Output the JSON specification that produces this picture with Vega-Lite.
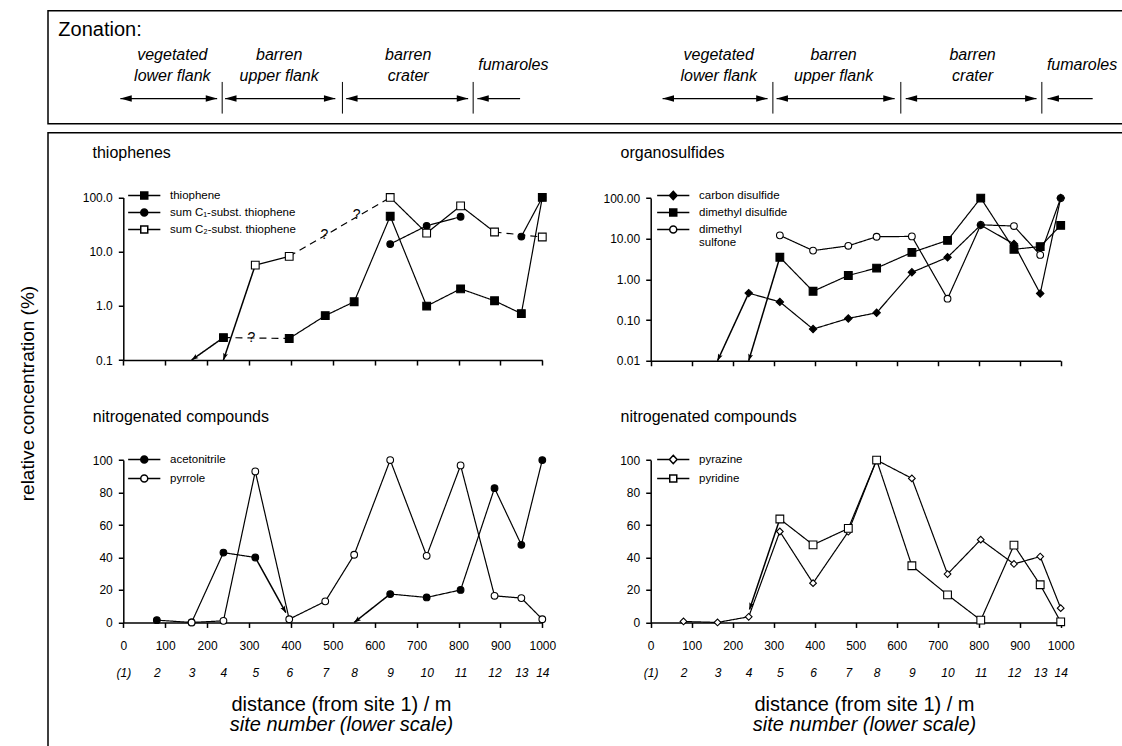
{
  "$schema": "https://vega.github.io/schema/vega-lite/v6.json",
  "padding": {"left": 17, "top": 9.75, "right": 0, "bottom": 0},
  "spacing": 7,
  "config": {
    "font": "Liberation Sans",
    "view": {"stroke": "black", "strokeWidth": 1.5},
    "axis": {"grid": false, "domainColor": "black", "domainWidth": 1.5, "tickColor": "black", "tickWidth": 1.5, "tickSize": 5, "labelColor": "black", "labelFontSize": 12, "labelFlush": false, "labelOverlap": false, "titleColor": "black", "titleFontWeight": "normal", "labelPadding": 6},
    "legend": {"labelColor": "black"},
    "text": {"color": "black"}
  },
  "datasets": {
    "tl_pts": [
      {"site": 9, "dist": 637, "series": "sum C₁-subst. thiophene", "v": 13.8},
      {"site": 10, "dist": 724, "series": "sum C₁-subst. thiophene", "v": 30},
      {"site": 11, "dist": 805, "series": "sum C₁-subst. thiophene", "v": 44},
      {"site": 13, "dist": 950, "series": "sum C₁-subst. thiophene", "v": 19},
      {"site": 14, "dist": 1000, "series": "sum C₁-subst. thiophene", "v": 100},
      {"site": 5, "dist": 315, "series": "sum C₂-subst. thiophene", "v": 5.65},
      {"site": 6, "dist": 396, "series": "sum C₂-subst. thiophene", "v": 8.2},
      {"site": 9, "dist": 637, "series": "sum C₂-subst. thiophene", "v": 100},
      {"site": 10, "dist": 724, "series": "sum C₂-subst. thiophene", "v": 22},
      {"site": 11, "dist": 805, "series": "sum C₂-subst. thiophene", "v": 70},
      {"site": 12, "dist": 886, "series": "sum C₂-subst. thiophene", "v": 23},
      {"site": 14, "dist": 1000, "series": "sum C₂-subst. thiophene", "v": 18.6},
      {"site": 4, "dist": 239, "series": "thiophene", "v": 0.26},
      {"site": 6, "dist": 396, "series": "thiophene", "v": 0.25},
      {"site": 7, "dist": 482, "series": "thiophene", "v": 0.66},
      {"site": 8, "dist": 551, "series": "thiophene", "v": 1.19},
      {"site": 9, "dist": 637, "series": "thiophene", "v": 45},
      {"site": 10, "dist": 724, "series": "thiophene", "v": 0.99},
      {"site": 11, "dist": 805, "series": "thiophene", "v": 2.06},
      {"site": 12, "dist": 886, "series": "thiophene", "v": 1.24},
      {"site": 13, "dist": 950, "series": "thiophene", "v": 0.72},
      {"site": 14, "dist": 1000, "series": "thiophene", "v": 100}
    ],
    "tl_lines": [
      {"seg": "t0", "style": "arrow", "dist": 239, "v": 0.26},
      {"seg": "t0", "style": "arrow", "dist": 163, "v": 0.1},
      {"seg": "t1", "style": "dashed", "dist": 239, "v": 0.26},
      {"seg": "t1", "style": "dashed", "dist": 396, "v": 0.25},
      {"seg": "t2", "style": "solid", "dist": 396, "v": 0.25},
      {"seg": "t2", "style": "solid", "dist": 482, "v": 0.66},
      {"seg": "t2", "style": "solid", "dist": 551, "v": 1.19},
      {"seg": "t2", "style": "solid", "dist": 637, "v": 45},
      {"seg": "t2", "style": "solid", "dist": 724, "v": 0.99},
      {"seg": "t2", "style": "solid", "dist": 805, "v": 2.06},
      {"seg": "t2", "style": "solid", "dist": 886, "v": 1.24},
      {"seg": "t2", "style": "solid", "dist": 950, "v": 0.72},
      {"seg": "t2", "style": "solid", "dist": 1000, "v": 100},
      {"seg": "c1a", "style": "solid", "dist": 637, "v": 13.8},
      {"seg": "c1a", "style": "solid", "dist": 724, "v": 30},
      {"seg": "c1a", "style": "solid", "dist": 805, "v": 44},
      {"seg": "c1b", "style": "solid", "dist": 950, "v": 19},
      {"seg": "c1b", "style": "solid", "dist": 1000, "v": 100},
      {"seg": "c2x", "style": "arrow", "dist": 315, "v": 5.65},
      {"seg": "c2x", "style": "arrow", "dist": 239, "v": 0.1},
      {"seg": "c2a", "style": "solid", "dist": 315, "v": 5.65},
      {"seg": "c2a", "style": "solid", "dist": 396, "v": 8.2},
      {"seg": "c2d", "style": "dashed", "dist": 396, "v": 8.2},
      {"seg": "c2d", "style": "dashed", "dist": 637, "v": 100},
      {"seg": "c2b", "style": "solid", "dist": 637, "v": 100},
      {"seg": "c2b", "style": "solid", "dist": 724, "v": 22},
      {"seg": "c2b", "style": "solid", "dist": 805, "v": 70},
      {"seg": "c2b", "style": "solid", "dist": 886, "v": 23},
      {"seg": "c2e", "style": "dashed", "dist": 886, "v": 23},
      {"seg": "c2e", "style": "dashed", "dist": 1000, "v": 18.6}
    ],
    "tl_tips": [
      {"series": "thiophene", "dist": 163, "v": 0.1},
      {"series": "sum C₂-subst. thiophene", "dist": 239, "v": 0.1}
    ],
    "tl_q": [
      {"dist": 306, "v": 0.25, "t": "?"},
      {"dist": 480, "v": 20, "t": "?"},
      {"dist": 557, "v": 48, "t": "?"}
    ],
    "tr_pts": [
      {"site": 5, "dist": 315, "series": "dimethyl sulfone", "v": 12.1},
      {"site": 6, "dist": 396, "series": "dimethyl sulfone", "v": 5.1},
      {"site": 7, "dist": 482, "series": "dimethyl sulfone", "v": 6.7},
      {"site": 8, "dist": 551, "series": "dimethyl sulfone", "v": 11.2},
      {"site": 9, "dist": 637, "series": "dimethyl sulfone", "v": 11.4},
      {"site": 10, "dist": 724, "series": "dimethyl sulfone", "v": 0.335},
      {"site": 11, "dist": 805, "series": "dimethyl sulfone", "v": 22},
      {"site": 12, "dist": 886, "series": "dimethyl sulfone", "v": 20.5},
      {"site": 13, "dist": 950, "series": "dimethyl sulfone", "v": 4.0},
      {"site": 14, "dist": 1000, "series": "dimethyl sulfone", "v": 100},
      {"site": 5, "dist": 315, "series": "dimethyl disulfide", "v": 3.5},
      {"site": 6, "dist": 396, "series": "dimethyl disulfide", "v": 0.51},
      {"site": 7, "dist": 482, "series": "dimethyl disulfide", "v": 1.25},
      {"site": 8, "dist": 551, "series": "dimethyl disulfide", "v": 1.9},
      {"site": 9, "dist": 637, "series": "dimethyl disulfide", "v": 4.6},
      {"site": 10, "dist": 724, "series": "dimethyl disulfide", "v": 9.1},
      {"site": 11, "dist": 805, "series": "dimethyl disulfide", "v": 100},
      {"site": 12, "dist": 886, "series": "dimethyl disulfide", "v": 5.5},
      {"site": 13, "dist": 950, "series": "dimethyl disulfide", "v": 6.4},
      {"site": 14, "dist": 1000, "series": "dimethyl disulfide", "v": 21.3},
      {"site": 4, "dist": 239, "series": "carbon disulfide", "v": 0.46},
      {"site": 5, "dist": 315, "series": "carbon disulfide", "v": 0.28},
      {"site": 6, "dist": 396, "series": "carbon disulfide", "v": 0.06},
      {"site": 7, "dist": 482, "series": "carbon disulfide", "v": 0.11},
      {"site": 8, "dist": 551, "series": "carbon disulfide", "v": 0.151},
      {"site": 9, "dist": 637, "series": "carbon disulfide", "v": 1.49},
      {"site": 10, "dist": 724, "series": "carbon disulfide", "v": 3.5},
      {"site": 11, "dist": 805, "series": "carbon disulfide", "v": 21.7},
      {"site": 12, "dist": 886, "series": "carbon disulfide", "v": 7.4},
      {"site": 13, "dist": 950, "series": "carbon disulfide", "v": 0.45},
      {"site": 14, "dist": 1000, "series": "carbon disulfide", "v": 100}
    ],
    "tr_lines": [
      {"seg": "cx", "style": "arrow", "dist": 239, "v": 0.46},
      {"seg": "cx", "style": "arrow", "dist": 163, "v": 0.01},
      {"seg": "c", "style": "solid", "dist": 239, "v": 0.46},
      {"seg": "c", "style": "solid", "dist": 315, "v": 0.28},
      {"seg": "c", "style": "solid", "dist": 396, "v": 0.06},
      {"seg": "c", "style": "solid", "dist": 482, "v": 0.11},
      {"seg": "c", "style": "solid", "dist": 551, "v": 0.151},
      {"seg": "c", "style": "solid", "dist": 637, "v": 1.49},
      {"seg": "c", "style": "solid", "dist": 724, "v": 3.5},
      {"seg": "c", "style": "solid", "dist": 805, "v": 21.7},
      {"seg": "c", "style": "solid", "dist": 886, "v": 7.4},
      {"seg": "c", "style": "solid", "dist": 950, "v": 0.45},
      {"seg": "c", "style": "solid", "dist": 1000, "v": 100},
      {"seg": "dx", "style": "arrow", "dist": 315, "v": 3.5},
      {"seg": "dx", "style": "arrow", "dist": 239, "v": 0.01},
      {"seg": "d", "style": "solid", "dist": 315, "v": 3.5},
      {"seg": "d", "style": "solid", "dist": 396, "v": 0.51},
      {"seg": "d", "style": "solid", "dist": 482, "v": 1.25},
      {"seg": "d", "style": "solid", "dist": 551, "v": 1.9},
      {"seg": "d", "style": "solid", "dist": 637, "v": 4.6},
      {"seg": "d", "style": "solid", "dist": 724, "v": 9.1},
      {"seg": "d", "style": "solid", "dist": 805, "v": 100},
      {"seg": "d", "style": "solid", "dist": 886, "v": 5.5},
      {"seg": "d", "style": "solid", "dist": 950, "v": 6.4},
      {"seg": "d", "style": "solid", "dist": 1000, "v": 21.3},
      {"seg": "s", "style": "solid", "dist": 315, "v": 12.1},
      {"seg": "s", "style": "solid", "dist": 396, "v": 5.1},
      {"seg": "s", "style": "solid", "dist": 482, "v": 6.7},
      {"seg": "s", "style": "solid", "dist": 551, "v": 11.2},
      {"seg": "s", "style": "solid", "dist": 637, "v": 11.4},
      {"seg": "s", "style": "solid", "dist": 724, "v": 0.335},
      {"seg": "s", "style": "solid", "dist": 805, "v": 22},
      {"seg": "s", "style": "solid", "dist": 886, "v": 20.5},
      {"seg": "s", "style": "solid", "dist": 950, "v": 4.0},
      {"seg": "s", "style": "solid", "dist": 1000, "v": 100}
    ],
    "tr_tips": [
      {"series": "carbon disulfide", "dist": 163, "v": 0.01},
      {"series": "dimethyl disulfide", "dist": 239, "v": 0.01}
    ],
    "bl_pts": [
      {"site": 2, "dist": 80, "series": "acetonitrile", "v": 1.4},
      {"site": 3, "dist": 163, "series": "acetonitrile", "v": 0},
      {"site": 4, "dist": 239, "series": "acetonitrile", "v": 43},
      {"site": 5, "dist": 315, "series": "acetonitrile", "v": 40},
      {"site": 9, "dist": 637, "series": "acetonitrile", "v": 17.5},
      {"site": 10, "dist": 724, "series": "acetonitrile", "v": 15.4},
      {"site": 11, "dist": 805, "series": "acetonitrile", "v": 20},
      {"site": 12, "dist": 886, "series": "acetonitrile", "v": 82.7},
      {"site": 13, "dist": 950, "series": "acetonitrile", "v": 47.8},
      {"site": 14, "dist": 1000, "series": "acetonitrile", "v": 100},
      {"site": 3, "dist": 163, "series": "pyrrole", "v": 0},
      {"site": 4, "dist": 239, "series": "pyrrole", "v": 1},
      {"site": 5, "dist": 315, "series": "pyrrole", "v": 93},
      {"site": 6, "dist": 396, "series": "pyrrole", "v": 2},
      {"site": 7, "dist": 482, "series": "pyrrole", "v": 13},
      {"site": 8, "dist": 551, "series": "pyrrole", "v": 41.7},
      {"site": 9, "dist": 637, "series": "pyrrole", "v": 100},
      {"site": 10, "dist": 724, "series": "pyrrole", "v": 41},
      {"site": 11, "dist": 805, "series": "pyrrole", "v": 96.7},
      {"site": 12, "dist": 886, "series": "pyrrole", "v": 16.4},
      {"site": 13, "dist": 950, "series": "pyrrole", "v": 15},
      {"site": 14, "dist": 1000, "series": "pyrrole", "v": 2}
    ],
    "bl_lines": [
      {"seg": "a1", "style": "solid", "dist": 80, "v": 1.4},
      {"seg": "a1", "style": "solid", "dist": 163, "v": 0},
      {"seg": "a1", "style": "solid", "dist": 239, "v": 43},
      {"seg": "a1", "style": "solid", "dist": 315, "v": 40},
      {"seg": "ax1", "style": "arrow", "dist": 315, "v": 40},
      {"seg": "ax1", "style": "arrow", "dist": 388, "v": 6},
      {"seg": "ax2", "style": "arrow", "dist": 637, "v": 17.5},
      {"seg": "ax2", "style": "arrow", "dist": 551, "v": 0},
      {"seg": "a2", "style": "solid", "dist": 637, "v": 17.5},
      {"seg": "a2", "style": "solid", "dist": 724, "v": 15.4},
      {"seg": "a2", "style": "solid", "dist": 805, "v": 20},
      {"seg": "a2", "style": "solid", "dist": 886, "v": 82.7},
      {"seg": "a2", "style": "solid", "dist": 950, "v": 47.8},
      {"seg": "a2", "style": "solid", "dist": 1000, "v": 100},
      {"seg": "p", "style": "solid", "dist": 163, "v": 0},
      {"seg": "p", "style": "solid", "dist": 239, "v": 1},
      {"seg": "p", "style": "solid", "dist": 315, "v": 93},
      {"seg": "p", "style": "solid", "dist": 396, "v": 2},
      {"seg": "p", "style": "solid", "dist": 482, "v": 13},
      {"seg": "p", "style": "solid", "dist": 551, "v": 41.7},
      {"seg": "p", "style": "solid", "dist": 637, "v": 100},
      {"seg": "p", "style": "solid", "dist": 724, "v": 41},
      {"seg": "p", "style": "solid", "dist": 805, "v": 96.7},
      {"seg": "p", "style": "solid", "dist": 886, "v": 16.4},
      {"seg": "p", "style": "solid", "dist": 950, "v": 15},
      {"seg": "p", "style": "solid", "dist": 1000, "v": 2}
    ],
    "bl_tips": [
      {"series": "acetonitrile", "dist": 388, "v": 6},
      {"series": "acetonitrile", "dist": 551, "v": 0}
    ],
    "br_pts": [
      {"site": 2, "dist": 80, "series": "pyrazine", "v": 0.6},
      {"site": 3, "dist": 163, "series": "pyrazine", "v": 0},
      {"site": 4, "dist": 239, "series": "pyrazine", "v": 3.5},
      {"site": 5, "dist": 315, "series": "pyrazine", "v": 56},
      {"site": 6, "dist": 396, "series": "pyrazine", "v": 24.2},
      {"site": 7, "dist": 482, "series": "pyrazine", "v": 55.9},
      {"site": 8, "dist": 551, "series": "pyrazine", "v": 100},
      {"site": 9, "dist": 637, "series": "pyrazine", "v": 88.7},
      {"site": 10, "dist": 724, "series": "pyrazine", "v": 29.8},
      {"site": 11, "dist": 805, "series": "pyrazine", "v": 51},
      {"site": 12, "dist": 886, "series": "pyrazine", "v": 36},
      {"site": 13, "dist": 950, "series": "pyrazine", "v": 40.6},
      {"site": 14, "dist": 1000, "series": "pyrazine", "v": 8.8},
      {"site": 5, "dist": 315, "series": "pyridine", "v": 63.7},
      {"site": 6, "dist": 396, "series": "pyridine", "v": 47.8},
      {"site": 7, "dist": 482, "series": "pyridine", "v": 57.9},
      {"site": 8, "dist": 551, "series": "pyridine", "v": 100},
      {"site": 9, "dist": 637, "series": "pyridine", "v": 34.9},
      {"site": 10, "dist": 724, "series": "pyridine", "v": 17},
      {"site": 11, "dist": 805, "series": "pyridine", "v": 1.4},
      {"site": 12, "dist": 886, "series": "pyridine", "v": 47.6},
      {"site": 13, "dist": 950, "series": "pyridine", "v": 23.2},
      {"site": 14, "dist": 1000, "series": "pyridine", "v": 0.4}
    ],
    "br_lines": [
      {"seg": "z", "style": "solid", "dist": 80, "v": 0.6},
      {"seg": "z", "style": "solid", "dist": 163, "v": 0},
      {"seg": "z", "style": "solid", "dist": 239, "v": 3.5},
      {"seg": "z", "style": "solid", "dist": 315, "v": 56},
      {"seg": "z", "style": "solid", "dist": 396, "v": 24.2},
      {"seg": "z", "style": "solid", "dist": 482, "v": 55.9},
      {"seg": "z", "style": "solid", "dist": 551, "v": 100},
      {"seg": "z", "style": "solid", "dist": 637, "v": 88.7},
      {"seg": "z", "style": "solid", "dist": 724, "v": 29.8},
      {"seg": "z", "style": "solid", "dist": 805, "v": 51},
      {"seg": "z", "style": "solid", "dist": 886, "v": 36},
      {"seg": "z", "style": "solid", "dist": 950, "v": 40.6},
      {"seg": "z", "style": "solid", "dist": 1000, "v": 8.8},
      {"seg": "dx", "style": "arrow", "dist": 315, "v": 63.7},
      {"seg": "dx", "style": "arrow", "dist": 241, "v": 8},
      {"seg": "d", "style": "solid", "dist": 315, "v": 63.7},
      {"seg": "d", "style": "solid", "dist": 396, "v": 47.8},
      {"seg": "d", "style": "solid", "dist": 482, "v": 57.9},
      {"seg": "d", "style": "solid", "dist": 551, "v": 100},
      {"seg": "d", "style": "solid", "dist": 637, "v": 34.9},
      {"seg": "d", "style": "solid", "dist": 724, "v": 17},
      {"seg": "d", "style": "solid", "dist": 805, "v": 1.4},
      {"seg": "d", "style": "solid", "dist": 886, "v": 47.6},
      {"seg": "d", "style": "solid", "dist": 950, "v": 23.2},
      {"seg": "d", "style": "solid", "dist": 1000, "v": 0.4}
    ],
    "br_tips": [
      {"series": "pyridine", "dist": 241, "v": 8}
    ],
    "zon_title": [{"t": "Zonation:", "x": -155, "lev": 82.7}],
    "zon_text": [
      {"half": "L", "x": 117, "lev": 60.6, "t": "vegetated"},
      {"half": "L", "x": 117, "lev": 42, "t": "lower flank"},
      {"half": "L", "x": 372, "lev": 60.6, "t": "barren"},
      {"half": "L", "x": 372, "lev": 42, "t": "upper flank"},
      {"half": "L", "x": 680, "lev": 60.6, "t": "barren"},
      {"half": "L", "x": 680, "lev": 42, "t": "crater"},
      {"half": "L", "x": 931, "lev": 51.8, "t": "fumaroles"},
      {"half": "R", "x": 166, "lev": 60.6, "t": "vegetated"},
      {"half": "R", "x": 166, "lev": 42, "t": "lower flank"},
      {"half": "R", "x": 446, "lev": 60.6, "t": "barren"},
      {"half": "R", "x": 446, "lev": 42, "t": "upper flank"},
      {"half": "R", "x": 785, "lev": 60.6, "t": "barren"},
      {"half": "R", "x": 785, "lev": 42, "t": "crater"},
      {"half": "R", "x": 1052, "lev": 51.8, "t": "fumaroles"}
    ],
    "zon_bound": [
      {"half": "L", "x": 236}, {"half": "L", "x": 523}, {"half": "L", "x": 835},
      {"half": "R", "x": 298}, {"half": "R", "x": 610}, {"half": "R", "x": 954}
    ],
    "zon_arrow": [
      {"half": "L", "x1": -7, "x2": 224},
      {"half": "L", "x1": 243, "x2": 506},
      {"half": "L", "x1": 532, "x2": 823},
      {"half": "L", "x1": 845, "x2": 947},
      {"half": "R", "x1": 29, "x2": 285},
      {"half": "R", "x1": 307, "x2": 595},
      {"half": "R", "x1": 622, "x2": 941},
      {"half": "R", "x1": 968, "x2": 1078}
    ],
    "zon_head": [
      {"half": "L", "x": -7, "dir": "left"}, {"half": "L", "x": 224, "dir": "right"},
      {"half": "L", "x": 243, "dir": "left"}, {"half": "L", "x": 506, "dir": "right"},
      {"half": "L", "x": 532, "dir": "left"}, {"half": "L", "x": 823, "dir": "right"},
      {"half": "L", "x": 845, "dir": "left"},
      {"half": "R", "x": 29, "dir": "left"}, {"half": "R", "x": 285, "dir": "right"},
      {"half": "R", "x": 307, "dir": "left"}, {"half": "R", "x": 595, "dir": "right"},
      {"half": "R", "x": 622, "dir": "left"}, {"half": "R", "x": 941, "dir": "right"},
      {"half": "R", "x": 968, "dir": "left"}
    ]
  },
  "vconcat": [
    {
      "width": 1080,
      "height": 113,
      "resolve": {"scale": {"x": "independent"}},
      "layer": [
        {
          "layer": [
            {
              "data": {"name": "zon_title"},
              "mark": {"type": "text", "fontSize": 20, "align": "left", "baseline": "middle"},
              "encoding": {
                "x": {"field": "x", "type": "quantitative", "scale": {"domain": [0, 1000], "range": [75.3, 494.3]}, "axis": null},
                "y": {"field": "lev", "type": "quantitative", "scale": {"domain": [0, 100], "range": [113, 0]}, "axis": null},
                "text": {"field": "t"}
              }
            },
            {
              "data": {"name": "zon_text"},
              "transform": [{"filter": "datum.half === 'L'"}],
              "mark": {"type": "text", "fontSize": 16, "fontStyle": "italic", "align": "center", "baseline": "middle"},
              "encoding": {
                "x": {"field": "x", "type": "quantitative", "scale": {"domain": [0, 1000], "range": [75.3, 494.3]}, "axis": null},
                "y": {"field": "lev", "type": "quantitative", "scale": {"domain": [0, 100], "range": [113, 0]}, "axis": null},
                "text": {"field": "t"}
              }
            },
            {
              "data": {"name": "zon_bound"},
              "transform": [{"filter": "datum.half === 'L'"}],
              "mark": {"type": "rule", "color": "black", "strokeWidth": 1},
              "encoding": {
                "x": {"field": "x", "type": "quantitative", "scale": {"domain": [0, 1000], "range": [75.3, 494.3]}, "axis": null},
                "y": {"datum": 9, "type": "quantitative", "scale": {"domain": [0, 100], "range": [113, 0]}, "axis": null},
                "y2": {"datum": 37}
              }
            },
            {
              "data": {"name": "zon_arrow"},
              "transform": [{"filter": "datum.half === 'L'"}],
              "mark": {"type": "rule", "color": "black", "strokeWidth": 1.3},
              "encoding": {
                "x": {"field": "x1", "type": "quantitative", "scale": {"domain": [0, 1000], "range": [75.3, 494.3]}, "axis": null},
                "x2": {"field": "x2"},
                "y": {"datum": 22.3, "type": "quantitative", "scale": {"domain": [0, 100], "range": [113, 0]}, "axis": null}
              }
            },
            {
              "data": {"name": "zon_head"},
              "transform": [{"filter": "datum.half === 'L'"}],
              "mark": {"type": "point", "shape": "M0,0 L-0.7,2.4 L0.7,2.4 Z", "filled": true, "color": "black", "opacity": 1, "size": 90, "strokeWidth": 0},
              "encoding": {
                "x": {"field": "x", "type": "quantitative", "scale": {"domain": [0, 1000], "range": [75.3, 494.3]}, "axis": null},
                "y": {"datum": 22.3, "type": "quantitative", "scale": {"domain": [0, 100], "range": [113, 0]}, "axis": null},
                "angle": {"condition": {"test": "datum.dir === 'right'", "value": 90}, "value": 270}
              }
            }
          ]
        },
        {
          "layer": [
            {
              "data": {"name": "zon_text"},
              "transform": [{"filter": "datum.half === 'R'"}],
              "mark": {"type": "text", "fontSize": 16, "fontStyle": "italic", "align": "center", "baseline": "middle"},
              "encoding": {
                "x": {"field": "x", "type": "quantitative", "scale": {"domain": [0, 1000], "range": [602.7, 1012.7]}, "axis": null},
                "y": {"field": "lev", "type": "quantitative", "scale": {"domain": [0, 100], "range": [113, 0]}, "axis": null},
                "text": {"field": "t"}
              }
            },
            {
              "data": {"name": "zon_bound"},
              "transform": [{"filter": "datum.half === 'R'"}],
              "mark": {"type": "rule", "color": "black", "strokeWidth": 1},
              "encoding": {
                "x": {"field": "x", "type": "quantitative", "scale": {"domain": [0, 1000], "range": [602.7, 1012.7]}, "axis": null},
                "y": {"datum": 9, "type": "quantitative", "scale": {"domain": [0, 100], "range": [113, 0]}, "axis": null},
                "y2": {"datum": 37}
              }
            },
            {
              "data": {"name": "zon_arrow"},
              "transform": [{"filter": "datum.half === 'R'"}],
              "mark": {"type": "rule", "color": "black", "strokeWidth": 1.3},
              "encoding": {
                "x": {"field": "x1", "type": "quantitative", "scale": {"domain": [0, 1000], "range": [602.7, 1012.7]}, "axis": null},
                "x2": {"field": "x2"},
                "y": {"datum": 22.3, "type": "quantitative", "scale": {"domain": [0, 100], "range": [113, 0]}, "axis": null}
              }
            },
            {
              "data": {"name": "zon_head"},
              "transform": [{"filter": "datum.half === 'R'"}],
              "mark": {"type": "point", "shape": "M0,0 L-0.7,2.4 L0.7,2.4 Z", "filled": true, "color": "black", "opacity": 1, "size": 90, "strokeWidth": 0},
              "encoding": {
                "x": {"field": "x", "type": "quantitative", "scale": {"domain": [0, 1000], "range": [602.7, 1012.7]}, "axis": null},
                "y": {"datum": 22.3, "type": "quantitative", "scale": {"domain": [0, 100], "range": [113, 0]}, "axis": null},
                "angle": {"condition": {"test": "datum.dir === 'right'", "value": 90}, "value": 270}
              }
            }
          ]
        }
      ]
    },
    {
      "width": 1080,
      "height": 620,
      "resolve": {
        "scale": {"x": "independent", "y": "independent", "shape": "independent", "fill": "independent"},
        "axis": {"x": "independent", "y": "independent"},
        "legend": {"shape": "independent", "fill": "independent"}
      },
      "layer": [
        {
          "resolve": {"axis": {"x": "independent", "y": "independent"}},
          "layer": [
            {
              "data": {"name": "tl_lines"},
              "mark": {"type": "line", "color": "black"},
              "encoding": {
                "x": {"field": "dist", "type": "quantitative", "scale": {"type": "linear", "domain": [0, 1000], "range": [75.3, 494.3], "nice": false, "zero": false},
                  "axis": {"orient": "bottom", "offset": -392.7, "values": [0, 100, 200, 300, 400, 500, 600, 700, 800, 900, 1000], "labels": false,
                    "title": "relative concentration  (%)", "titleAngle": -90, "titleX": -21, "titleY": 33, "titleAlign": "center", "titleBaseline": "middle", "titleFontSize": 19}},
                "y": {"field": "v", "type": "quantitative", "scale": {"type": "log", "domain": [0.1, 100], "range": [227.3, 64.7]},
                  "axis": {"orient": "left", "offset": -75.3, "values": [0.1, 1, 10, 100], "format": ".1f",
                    "title": "thiophenes", "titleAngle": 0, "titleAlign": "left", "titleBaseline": "middle", "titleX": -31.3, "titleY": 20, "titleFontSize": 16}},
                "detail": {"field": "seg", "type": "nominal"},
                "strokeDash": {"field": "style", "type": "nominal", "scale": {"domain": ["solid", "dashed", "arrow"], "range": [[1, 0], [7, 5], [1, 0]]}, "legend": null},
                "strokeWidth": {"condition": {"test": "datum.style === 'arrow'", "value": 1.5}, "value": 1.2}
              }
            },
            {
              "data": {"name": "tl_q"},
              "mark": {"type": "text", "fontSize": 14, "baseline": "middle", "align": "center"},
              "encoding": {
                "x": {"field": "dist", "type": "quantitative", "scale": {"type": "linear", "domain": [0, 1000], "range": [75.3, 494.3], "nice": false, "zero": false}, "axis": null},
                "y": {"field": "v", "type": "quantitative", "scale": {"type": "log", "domain": [0.1, 100], "range": [227.3, 64.7]}, "axis": null},
                "text": {"field": "t"}
              }
            },
            {
              "data": {"name": "tl_tips"},
              "mark": {"type": "point", "shape": "M0,0 L-0.9,2.5 L0,2 L0.9,2.5 Z", "filled": true, "color": "black", "opacity": 1, "size": 30, "strokeWidth": 0},
              "encoding": {
                "x": {"field": "dist", "type": "quantitative", "scale": {"type": "linear", "domain": [0, 1000], "range": [75.3, 494.3], "nice": false, "zero": false}, "axis": null},
                "y": {"field": "v", "type": "quantitative", "scale": {"type": "log", "domain": [0.1, 100], "range": [227.3, 64.7]}, "axis": null},
                "angle": {"condition": {"test": "datum.series === 'thiophene'", "value": 234.7}, "value": 198.5}
              }
            },
            {
              "data": {"name": "tl_pts"},
              "mark": {"type": "point", "filled": true, "stroke": "black", "strokeWidth": 1.1, "opacity": 1},
              "encoding": {
                "x": {"field": "dist", "type": "quantitative", "scale": {"type": "linear", "domain": [0, 1000], "range": [75.3, 494.3], "nice": false, "zero": false}, "axis": null},
                "y": {"field": "v", "type": "quantitative", "scale": {"type": "log", "domain": [0.1, 100], "range": [227.3, 64.7]}, "axis": null},
                "shape": {"condition": {"test": "datum.series === 'sum C₁-subst. thiophene'", "value": "circle"}, "value": "square"},
                "fill": {"condition": {"test": "datum.series === 'sum C₂-subst. thiophene'", "value": "white"}, "value": "black"},
                "size": {"condition": {"test": "datum.series === 'sum C₁-subst. thiophene'", "value": 45}, "value": 60}
              }
            },
            {
              "data": {"name": "tl_pts"},
              "transform": [{"filter": "false"}],
              "mark": {"type": "point", "filled": true, "stroke": "black", "strokeWidth": 1.1, "opacity": 1},
              "encoding": {
                "x": {"field": "dist", "type": "quantitative", "scale": {"type": "linear", "domain": [0, 1000], "range": [75.3, 494.3], "nice": false, "zero": false}, "axis": null},
                "y": {"field": "v", "type": "quantitative", "scale": {"type": "log", "domain": [0.1, 100], "range": [227.3, 64.7]}, "axis": null},
                "shape": {"field": "series", "type": "nominal",
                  "scale": {"domain": ["thiophene", "sum C₁-subst. thiophene", "sum C₂-subst. thiophene"],
                    "range": ["M-4.6,0 L-1,0 M1,0 L4.6,0 M-1,-1 L1,-1 L1,1 L-1,1 Z", "M-4.6,0 L-1,0 M1,0 L4.6,0 M-1,0 A1,1 0 1,0 1,0 A1,1 0 1,0 -1,0 Z", "M-4.6,0 L-1,0 M1,0 L4.6,0 M-1,-1 L1,-1 L1,1 L-1,1 Z"]},
                  "legend": {"orient": "none", "legendX": 90.5, "legendY": 57, "title": null, "labelFontSize": 11.5, "labelOffset": 20, "symbolSize": 49, "rowPadding": 3, "padding": 0, "labelLimit": 300,
                    "encode": {"symbols": {"update": {"stroke": {"value": "black"}, "strokeWidth": {"value": 1.2}, "opacity": {"value": 1}}}}}},
                "fill": {"field": "series", "type": "nominal",
                  "scale": {"domain": ["thiophene", "sum C₁-subst. thiophene", "sum C₂-subst. thiophene"], "range": ["black", "black", "white"]},
                  "legend": {"orient": "none", "legendX": 90.5, "legendY": 57, "title": null, "labelFontSize": 11.5, "labelOffset": 20, "symbolSize": 49, "rowPadding": 3, "padding": 0, "labelLimit": 300,
                    "encode": {"symbols": {"update": {"stroke": {"value": "black"}, "strokeWidth": {"value": 1.2}, "opacity": {"value": 1}}}}}}
              }
            }
          ]
        },
        {
          "resolve": {"axis": {"x": "independent", "y": "independent"}},
          "layer": [
            {
              "data": {"name": "tr_lines"},
              "mark": {"type": "line", "color": "black"},
              "encoding": {
                "x": {"field": "dist", "type": "quantitative", "scale": {"type": "linear", "domain": [0, 1000], "range": [602.7, 1012.7], "nice": false, "zero": false},
                  "axis": {"orient": "bottom", "offset": -392, "values": [0, 100, 200, 300, 400, 500, 600, 700, 800, 900, 1000], "labels": false, "title": null}},
                "y": {"field": "v", "type": "quantitative", "scale": {"type": "log", "domain": [0.01, 100], "range": [228, 65.3]},
                  "axis": {"orient": "left", "offset": -602.7, "values": [0.01, 0.1, 1, 10, 100], "format": ".2f",
                    "title": "organosulfides", "titleAngle": 0, "titleAlign": "left", "titleBaseline": "middle", "titleX": -30.7, "titleY": 20, "titleFontSize": 16}},
                "detail": {"field": "seg", "type": "nominal"},
                "strokeDash": {"field": "style", "type": "nominal", "scale": {"domain": ["solid", "dashed", "arrow"], "range": [[1, 0], [7, 5], [1, 0]]}, "legend": null},
                "strokeWidth": {"condition": {"test": "datum.style === 'arrow'", "value": 1.5}, "value": 1.2}
              }
            },
            {
              "data": {"name": "tr_tips"},
              "mark": {"type": "point", "shape": "M0,0 L-0.9,2.5 L0,2 L0.9,2.5 Z", "filled": true, "color": "black", "opacity": 1, "size": 30, "strokeWidth": 0},
              "encoding": {
                "x": {"field": "dist", "type": "quantitative", "scale": {"type": "linear", "domain": [0, 1000], "range": [602.7, 1012.7], "nice": false, "zero": false}, "axis": null},
                "y": {"field": "v", "type": "quantitative", "scale": {"type": "log", "domain": [0.01, 100], "range": [228, 65.3]}, "axis": null},
                "angle": {"condition": {"test": "datum.series === 'carbon disulfide'", "value": 204.5}, "value": 196.6}
              }
            },
            {
              "data": {"name": "tr_pts"},
              "mark": {"type": "point", "filled": true, "stroke": "black", "strokeWidth": 1.1, "opacity": 1},
              "encoding": {
                "x": {"field": "dist", "type": "quantitative", "scale": {"type": "linear", "domain": [0, 1000], "range": [602.7, 1012.7], "nice": false, "zero": false}, "axis": null},
                "y": {"field": "v", "type": "quantitative", "scale": {"type": "log", "domain": [0.01, 100], "range": [228, 65.3]}, "axis": null},
                "shape": {"condition": [{"test": "datum.series === 'carbon disulfide'", "value": "diamond"}, {"test": "datum.series === 'dimethyl sulfone'", "value": "circle"}], "value": "square"},
                "fill": {"condition": {"test": "datum.series === 'dimethyl sulfone'", "value": "white"}, "value": "black"},
                "size": {"condition": [{"test": "datum.series === 'carbon disulfide'", "value": 55}, {"test": "datum.series === 'dimethyl sulfone'", "value": 45}], "value": 60}
              }
            },
            {
              "data": {"name": "tr_pts"},
              "transform": [{"filter": "false"}],
              "mark": {"type": "point", "filled": true, "stroke": "black", "strokeWidth": 1.1, "opacity": 1},
              "encoding": {
                "x": {"field": "dist", "type": "quantitative", "scale": {"type": "linear", "domain": [0, 1000], "range": [602.7, 1012.7], "nice": false, "zero": false}, "axis": null},
                "y": {"field": "v", "type": "quantitative", "scale": {"type": "log", "domain": [0.01, 100], "range": [228, 65.3]}, "axis": null},
                "shape": {"field": "series", "type": "nominal",
                  "scale": {"domain": ["carbon disulfide", "dimethyl disulfide", "dimethyl sulfone"],
                    "range": ["M-4.6,0 L-1.1,0 M1.1,0 L4.6,0 M0,-1.2 L1.1,0 L0,1.2 L-1.1,0 Z", "M-4.6,0 L-1,0 M1,0 L4.6,0 M-1,-1 L1,-1 L1,1 L-1,1 Z", "M-4.6,0 L-1,0 M1,0 L4.6,0 M-1,0 A1,1 0 1,0 1,0 A1,1 0 1,0 -1,0 Z"]},
                  "legend": {"orient": "none", "legendX": 619.5, "legendY": 57, "title": null, "labelFontSize": 11.5, "labelOffset": 20, "symbolSize": 49, "rowPadding": 3, "padding": 0, "labelLimit": 300,
                    "labelExpr": "datum.label === 'dimethyl sulfone' ? ['dimethyl', 'sulfone'] : datum.label",
                    "encode": {"symbols": {"update": {"stroke": {"value": "black"}, "strokeWidth": {"value": 1.2}, "opacity": {"value": 1}}}, "labels": {"update": {"lineHeight": {"value": 16}}}}}},
                "fill": {"field": "series", "type": "nominal",
                  "scale": {"domain": ["carbon disulfide", "dimethyl disulfide", "dimethyl sulfone"], "range": ["black", "black", "white"]},
                  "legend": {"orient": "none", "legendX": 619.5, "legendY": 57, "title": null, "labelFontSize": 11.5, "labelOffset": 20, "symbolSize": 49, "rowPadding": 3, "padding": 0, "labelLimit": 300,
                    "labelExpr": "datum.label === 'dimethyl sulfone' ? ['dimethyl', 'sulfone'] : datum.label",
                    "encode": {"symbols": {"update": {"stroke": {"value": "black"}, "strokeWidth": {"value": 1.2}, "opacity": {"value": 1}}}, "labels": {"update": {"lineHeight": {"value": 16}}}}}}
              }
            }
          ]
        },
        {
          "resolve": {"axis": {"x": "independent", "y": "independent"}},
          "layer": [
            {
              "data": {"name": "bl_lines"},
              "mark": {"type": "line", "color": "black"},
              "encoding": {
                "x": {"field": "dist", "type": "quantitative", "scale": {"type": "linear", "domain": [0, 1000], "range": [75.3, 494.3], "nice": false, "zero": false},
                  "axis": {"orient": "bottom", "offset": -130.3, "values": [0, 100, 200, 300, 400, 500, 600, 700, 800, 900, 1000], "format": "d", "labelPadding": 13,
                    "title": "distance (from site 1) / m", "titleFontSize": 20, "titleX": 293, "titleY": 82.3, "titleAlign": "center", "titleBaseline": "middle"}},
                "y": {"field": "v", "type": "quantitative", "scale": {"type": "linear", "domain": [0, 100], "range": [489.7, 327.3], "nice": false},
                  "axis": {"orient": "left", "offset": -75.3, "values": [0, 20, 40, 60, 80, 100],
                    "title": "nitrogenated compounds", "titleAngle": 0, "titleAlign": "left", "titleBaseline": "middle", "titleX": -31, "titleY": 284, "titleFontSize": 16}},
                "detail": {"field": "seg", "type": "nominal"},
                "strokeDash": {"field": "style", "type": "nominal", "scale": {"domain": ["solid", "dashed", "arrow"], "range": [[1, 0], [7, 5], [1, 0]]}, "legend": null},
                "strokeWidth": {"condition": {"test": "datum.style === 'arrow'", "value": 1.5}, "value": 1.2}
              }
            },
            {
              "data": {"name": "bl_tips"},
              "mark": {"type": "point", "shape": "M0,0 L-0.9,2.5 L0,2 L0.9,2.5 Z", "filled": true, "color": "black", "opacity": 1, "size": 30, "strokeWidth": 0},
              "encoding": {
                "x": {"field": "dist", "type": "quantitative", "scale": {"type": "linear", "domain": [0, 1000], "range": [75.3, 494.3], "nice": false, "zero": false}, "axis": null},
                "y": {"field": "v", "type": "quantitative", "scale": {"type": "linear", "domain": [0, 100], "range": [489.7, 327.3], "nice": false}, "axis": null},
                "angle": {"condition": {"test": "datum.dist < 500", "value": 151}, "value": 231.7}
              }
            },
            {
              "data": {"name": "bl_pts"},
              "mark": {"type": "point", "filled": true, "stroke": "black", "strokeWidth": 1.1, "opacity": 1, "shape": "circle"},
              "encoding": {
                "x": {"field": "dist", "type": "quantitative", "scale": {"type": "linear", "domain": [0, 1000], "range": [75.3, 494.3], "nice": false, "zero": false},
                  "axis": {"orient": "bottom", "offset": -130.3, "values": [0, 80, 163, 239, 315, 396, 482, 551, 637, 724, 805, 886, 950, 1000],
                    "labelExpr": "datum.value === 0 ? '(1)' : '' + (indexof([0, 80, 163, 239, 315, 396, 482, 551, 637, 724, 805, 886, 950, 1000], datum.value) + 1)",
                    "domain": false, "ticks": false, "tickSize": 0, "labelPadding": 45, "labelFontStyle": "italic",
                    "title": "site number (lower scale)", "titleFontStyle": "italic", "titleFontSize": 20, "titleX": 293, "titleY": 102.3, "titleAlign": "center", "titleBaseline": "middle"}},
                "y": {"field": "v", "type": "quantitative", "scale": {"type": "linear", "domain": [0, 100], "range": [489.7, 327.3], "nice": false}, "axis": null},
                "fill": {"condition": {"test": "datum.series === 'pyrrole'", "value": "white"}, "value": "black"},
                "size": {"value": 45}
              }
            },
            {
              "data": {"name": "bl_pts"},
              "transform": [{"filter": "false"}],
              "mark": {"type": "point", "filled": true, "stroke": "black", "strokeWidth": 1.1, "opacity": 1},
              "encoding": {
                "x": {"field": "dist", "type": "quantitative", "scale": {"type": "linear", "domain": [0, 1000], "range": [75.3, 494.3], "nice": false, "zero": false}, "axis": null},
                "y": {"field": "v", "type": "quantitative", "scale": {"type": "linear", "domain": [0, 100], "range": [489.7, 327.3], "nice": false}, "axis": null},
                "shape": {"field": "series", "type": "nominal",
                  "scale": {"domain": ["acetonitrile", "pyrrole"],
                    "range": ["M-4.6,0 L-1,0 M1,0 L4.6,0 M-1,0 A1,1 0 1,0 1,0 A1,1 0 1,0 -1,0 Z", "M-4.6,0 L-1,0 M1,0 L4.6,0 M-1,0 A1,1 0 1,0 1,0 A1,1 0 1,0 -1,0 Z"]},
                  "legend": {"orient": "none", "legendX": 90.5, "legendY": 321, "title": null, "labelFontSize": 11.5, "labelOffset": 20, "symbolSize": 49, "rowPadding": 5, "padding": 0, "labelLimit": 300,
                    "encode": {"symbols": {"update": {"stroke": {"value": "black"}, "strokeWidth": {"value": 1.2}, "opacity": {"value": 1}}}}}},
                "fill": {"field": "series", "type": "nominal",
                  "scale": {"domain": ["acetonitrile", "pyrrole"], "range": ["black", "white"]},
                  "legend": {"orient": "none", "legendX": 90.5, "legendY": 321, "title": null, "labelFontSize": 11.5, "labelOffset": 20, "symbolSize": 49, "rowPadding": 5, "padding": 0, "labelLimit": 300,
                    "encode": {"symbols": {"update": {"stroke": {"value": "black"}, "strokeWidth": {"value": 1.2}, "opacity": {"value": 1}}}}}}
              }
            }
          ]
        },
        {
          "resolve": {"axis": {"x": "independent", "y": "independent"}},
          "layer": [
            {
              "data": {"name": "br_lines"},
              "mark": {"type": "line", "color": "black"},
              "encoding": {
                "x": {"field": "dist", "type": "quantitative", "scale": {"type": "linear", "domain": [0, 1000], "range": [602.7, 1012.7], "nice": false, "zero": false},
                  "axis": {"orient": "bottom", "offset": -130.3, "values": [0, 100, 200, 300, 400, 500, 600, 700, 800, 900, 1000], "format": "d", "labelPadding": 13,
                    "title": "distance (from site 1) / m", "titleFontSize": 20, "titleX": 816, "titleY": 82.3, "titleAlign": "center", "titleBaseline": "middle"}},
                "y": {"field": "v", "type": "quantitative", "scale": {"type": "linear", "domain": [0, 100], "range": [489.7, 327.3], "nice": false},
                  "axis": {"orient": "left", "offset": -602.7, "values": [0, 20, 40, 60, 80, 100],
                    "title": "nitrogenated compounds", "titleAngle": 0, "titleAlign": "left", "titleBaseline": "middle", "titleX": -30.7, "titleY": 284, "titleFontSize": 16}},
                "detail": {"field": "seg", "type": "nominal"},
                "strokeDash": {"field": "style", "type": "nominal", "scale": {"domain": ["solid", "dashed", "arrow"], "range": [[1, 0], [7, 5], [1, 0]]}, "legend": null},
                "strokeWidth": {"condition": {"test": "datum.style === 'arrow'", "value": 1.5}, "value": 1.2}
              }
            },
            {
              "data": {"name": "br_tips"},
              "mark": {"type": "point", "shape": "M0,0 L-0.9,2.5 L0,2 L0.9,2.5 Z", "filled": true, "color": "black", "opacity": 1, "size": 30, "strokeWidth": 0},
              "encoding": {
                "x": {"field": "dist", "type": "quantitative", "scale": {"type": "linear", "domain": [0, 1000], "range": [602.7, 1012.7], "nice": false, "zero": false}, "axis": null},
                "y": {"field": "v", "type": "quantitative", "scale": {"type": "linear", "domain": [0, 100], "range": [489.7, 327.3], "nice": false}, "axis": null},
                "angle": {"value": 198.5}
              }
            },
            {
              "data": {"name": "br_pts"},
              "mark": {"type": "point", "filled": true, "stroke": "black", "strokeWidth": 1.1, "opacity": 1, "fill": "white"},
              "encoding": {
                "x": {"field": "dist", "type": "quantitative", "scale": {"type": "linear", "domain": [0, 1000], "range": [602.7, 1012.7], "nice": false, "zero": false},
                  "axis": {"orient": "bottom", "offset": -130.3, "values": [0, 80, 163, 239, 315, 396, 482, 551, 637, 724, 805, 886, 950, 1000],
                    "labelExpr": "datum.value === 0 ? '(1)' : '' + (indexof([0, 80, 163, 239, 315, 396, 482, 551, 637, 724, 805, 886, 950, 1000], datum.value) + 1)",
                    "domain": false, "ticks": false, "tickSize": 0, "labelPadding": 45, "labelFontStyle": "italic",
                    "title": "site number (lower scale)", "titleFontStyle": "italic", "titleFontSize": 20, "titleX": 816, "titleY": 102.3, "titleAlign": "center", "titleBaseline": "middle"}},
                "y": {"field": "v", "type": "quantitative", "scale": {"type": "linear", "domain": [0, 100], "range": [489.7, 327.3], "nice": false}, "axis": null},
                "shape": {"condition": {"test": "datum.series === 'pyrazine'", "value": "diamond"}, "value": "square"},
                "size": {"condition": {"test": "datum.series === 'pyrazine'", "value": 45}, "value": 60}
              }
            },
            {
              "data": {"name": "br_pts"},
              "transform": [{"filter": "false"}],
              "mark": {"type": "point", "filled": true, "stroke": "black", "strokeWidth": 1.1, "opacity": 1},
              "encoding": {
                "x": {"field": "dist", "type": "quantitative", "scale": {"type": "linear", "domain": [0, 1000], "range": [602.7, 1012.7], "nice": false, "zero": false}, "axis": null},
                "y": {"field": "v", "type": "quantitative", "scale": {"type": "linear", "domain": [0, 100], "range": [489.7, 327.3], "nice": false}, "axis": null},
                "shape": {"field": "series", "type": "nominal",
                  "scale": {"domain": ["pyrazine", "pyridine"],
                    "range": ["M-4.6,0 L-1.1,0 M1.1,0 L4.6,0 M0,-1.2 L1.1,0 L0,1.2 L-1.1,0 Z", "M-4.6,0 L-1,0 M1,0 L4.6,0 M-1,-1 L1,-1 L1,1 L-1,1 Z"]},
                  "legend": {"orient": "none", "legendX": 619.5, "legendY": 321, "title": null, "labelFontSize": 11.5, "labelOffset": 20, "symbolSize": 49, "rowPadding": 5, "padding": 0, "labelLimit": 300,
                    "encode": {"symbols": {"update": {"stroke": {"value": "black"}, "strokeWidth": {"value": 1.2}, "opacity": {"value": 1}}}}}},
                "fill": {"field": "series", "type": "nominal",
                  "scale": {"domain": ["pyrazine", "pyridine"], "range": ["white", "white"]},
                  "legend": {"orient": "none", "legendX": 619.5, "legendY": 321, "title": null, "labelFontSize": 11.5, "labelOffset": 20, "symbolSize": 49, "rowPadding": 5, "padding": 0, "labelLimit": 300,
                    "encode": {"symbols": {"update": {"stroke": {"value": "black"}, "strokeWidth": {"value": 1.2}, "opacity": {"value": 1}}}}}}
              }
            }
          ]
        }
      ]
    }
  ]
}
